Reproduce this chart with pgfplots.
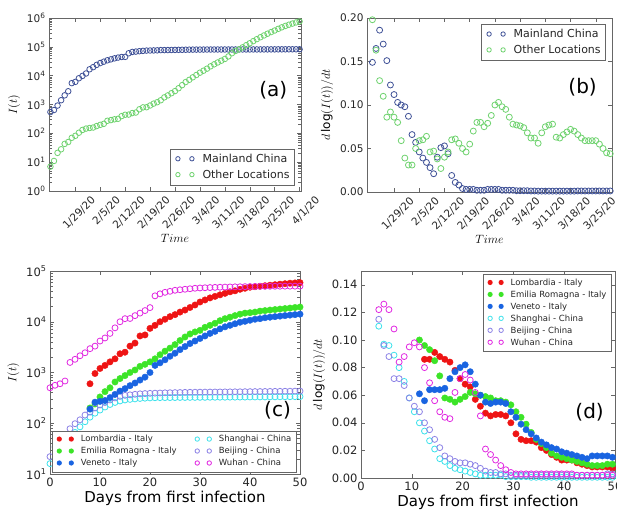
\documentclass[border=0pt]{standalone}
\usepackage{fontspec}
\setmainfont{DejaVu Sans}
\usepackage{pgfplots}
\pgfplotsset{compat=1.18}
\definecolor{cnblue}{RGB}{62,80,150}
\definecolor{olgreen}{RGB}{110,210,110}
\definecolor{lred}{RGB}{238,20,20}
\definecolor{lgreen}{RGB}{60,228,40}
\definecolor{lblue}{RGB}{25,100,225}
\definecolor{lcyan}{RGB}{60,225,235}
\definecolor{lpurple}{RGB}{140,130,230}
\definecolor{lmag}{RGB}{225,40,225}
\newcommand\tp[1]{10\textsuperscript{#1}}
% two-marker legend symbols (open / filled)
\newcommand\lmo[2]{\tikz[baseline=-0.6ex]\draw[#1,line width=0.8pt] (0pt,0pt) circle (2.2pt) (#2,0pt) circle (2.2pt);}
\newcommand\lmf[2]{\tikz[baseline=-0.6ex]\fill[#1] (0pt,0pt) circle (2.6pt) (#2,0pt) circle (2.6pt);}
\pgfplotsset{
  base/.style={scale only axis, axis line style={black!60}, every tick/.style={black!60},
    tick align=inside, tick label style={text=black!85},
    /pgf/number format/assume math mode=true, legend cell align=left,
    legend style={draw=black!60, text=black!85, inner sep=3pt, row sep=2pt}},
  odot/.style={only marks, mark=o, mark size=2.8pt, line width=0.8pt, color=#1, forget plot},
  fdot/.style={only marks, mark=*, mark size=3.2pt, color=#1, mark options={fill=#1, draw=#1}, forget plot},
  datelab/.style={x tick label style={xshift=15pt, yshift=-3pt, rotate=45, anchor=north east,
    font=\fontsize{10.5}{12}\selectfont, inner sep=1pt}},
}
\begin{document}
\begin{tikzpicture}
\useasboundingbox (0pt,0pt) rectangle (617pt,511pt);
% ---------------- (a)
\begin{axis}[base, datelab, at={(49pt,320pt)}, anchor=south west, width=252pt, height=173pt,
  xmin=-0.4, xmax=70.4, ymode=log, ymin=1, ymax=1e6,
  xtick={7,14,21,28,35,42,49,56,63,70},
  xticklabels={1/29/20,2/5/20,2/12/20,2/19/20,2/26/20,3/4/20,3/11/20,3/18/20,3/25/20,4/1/20},
  ytick={1,10,100,1000,10000,100000,1000000},
  yticklabels={\tp0,\tp1,\tp2,\tp3,\tp4,\tp5,\tp6},
  y tick label style={font=\fontsize{10.5}{12}\selectfont},
  xlabel={$Time$}, ylabel={$I(t)$}, label style={font=\fontsize{12}{14}\selectfont},
  xlabel style={yshift=1pt},
  legend style={at={(0.975,0.035)}, anchor=south east, font=\fontsize{11}{12.5}\selectfont}]
\addplot[odot=cnblue] coordinates {(0,548)(1,643)(2,920)(3,1406)(4,2075)(5,2877)(6,5509)(7,6087)(8,8141)(9,9802)(10,11891)(11,16630)(12,19716)(13,23707)(14,27440)(15,30587)(16,34110)(17,36814)(18,39829)(19,42354)(20,44386)(21,44759)(22,59895)(23,66358)(24,68413)(25,70513)(26,72434)(27,74211)(28,74619)(29,75077)(30,75550)(31,77001)(32,77022)(33,77241)(34,77754)(35,78166)(36,78600)(37,78928)(38,79356)(39,79932)(40,80136)(41,80261)(42,80386)(43,80537)(44,80690)(45,80770)(46,80823)(47,80860)(48,80887)(49,80921)(50,80932)(51,80945)(52,80977)(53,81003)(54,81033)(55,81058)(56,81102)(57,81156)(58,81250)(59,81305)(60,81435)(61,81498)(62,81591)(63,81661)(64,81782)(65,81897)(66,81999)(67,82122)(68,82198)(69,82279)(70,82361)};
\addplot[odot=olgreen] coordinates {(0,7)(1,11)(2,21)(3,28)(4,43)(5,50)(6,70)(7,82)(8,105)(9,131)(10,146)(11,153)(12,159)(13,179)(14,197)(15,214)(16,272)(17,288)(18,307)(19,319)(20,395)(21,441)(22,447)(23,505)(24,526)(25,683)(26,794)(27,804)(28,924)(29,1073)(30,1200)(31,1402)(32,1769)(33,2069)(34,2459)(35,2918)(36,3664)(37,4691)(38,6009)(39,7169)(40,8774)(41,10566)(42,12668)(43,14852)(44,17481)(45,21110)(46,24747)(47,28673)(48,32997)(49,37910)(50,46431)(51,60000)(52,72000)(53,82000)(54,96000)(55,114000)(56,133000)(57,158000)(58,185000)(59,215000)(60,248000)(61,285000)(62,325000)(63,368000)(64,420000)(65,475000)(66,530000)(67,585000)(68,640000)(69,700000)(70,760000)};
\addlegendimage{empty legend}\addlegendentry{\lmo{cnblue}{14pt}\hspace{8pt}Mainland China}
\addlegendimage{empty legend}\addlegendentry{\lmo{olgreen}{14pt}\hspace{8pt}Other Locations}
\node[font=\fontsize{20}{22}\selectfont] at (rel axis cs:0.89,0.58) {(a)};
\end{axis}
% ---------------- (b)
\begin{axis}[base, datelab, at={(367pt,319pt)}, anchor=south west, width=245pt, height=174pt,
  xmin=-0.5, xmax=67.5, ymin=0, ymax=0.2,
  xtick={7,14,21,28,35,42,49,56,63},
  xticklabels={1/29/20,2/5/20,2/12/20,2/19/20,2/26/20,3/4/20,3/11/20,3/18/20,3/25/20},
  ytick={0,0.05,0.1,0.15,0.2}, yticklabels={0.00,0.05,0.10,0.15,0.20},
  y tick label style={font=\fontsize{10.5}{12}\selectfont},
  xlabel={$Time$}, ylabel={$d\log(I(t))/dt$}, label style={font=\fontsize{12}{14}\selectfont},
  xlabel style={yshift=1pt},
  legend style={at={(0.975,0.965)}, anchor=north east, font=\fontsize{11}{12.5}\selectfont}]
\addplot[odot=cnblue, mark size=3pt] coordinates {(1,0.149)(2,0.165)(3,0.186)(4,0.170)(5,0.151)(6,0.123)(7,0.112)(8,0.103)(9,0.100)(10,0.098)(11,0.087)(12,0.066)(13,0.057)(14,0.046)(15,0.039)(16,0.034)(17,0.028)(18,0.021)(19,0.040)(20,0.051)(21,0.053)(22,0.044)(23,0.019)(24,0.011)(25,0.008)(26,0.004)(27,0.003)(28,0.003)(29,0.003)(30,0.002)(31,0.002)(32,0.002)(33,0.003)(34,0.003)(35,0.003)(36,0.003)(37,0.002)(38,0.002)(39,0.002)(40,0.002)(41,0.0015)(42,0.0015)(43,0.0015)(44,0.0015)(45,0.0012)(46,0.0012)(47,0.001)(48,0.001)(49,0.001)(50,0.001)(51,0.001)(52,0.001)(53,0.001)(54,0.001)(55,0.001)(56,0.001)(57,0.001)(58,0.0012)(59,0.0012)(60,0.0012)(61,0.0012)(62,0.0012)(63,0.0012)(64,0.0012)(65,0.0012)(66,0.0012)(67,0.0012)};
\addplot[odot=olgreen, mark size=3pt] coordinates {(1,0.198)(2,0.163)(3,0.128)(4,0.110)(5,0.086)(6,0.092)(7,0.086)(8,0.080)(9,0.059)(10,0.039)(11,0.031)(12,0.031)(13,0.050)(14,0.059)(15,0.060)(16,0.064)(17,0.046)(18,0.047)(19,0.038)(20,0.027)(21,0.040)(22,0.046)(23,0.060)(24,0.061)(25,0.056)(26,0.050)(27,0.046)(28,0.055)(29,0.070)(30,0.080)(31,0.080)(32,0.075)(33,0.079)(34,0.088)(35,0.100)(36,0.103)(37,0.098)(38,0.095)(39,0.086)(40,0.078)(41,0.077)(42,0.076)(43,0.074)(44,0.068)(45,0.062)(46,0.062)(47,0.056)(48,0.068)(49,0.075)(50,0.077)(51,0.078)(52,0.063)(53,0.062)(54,0.066)(55,0.069)(56,0.072)(57,0.070)(58,0.066)(59,0.062)(60,0.059)(61,0.059)(62,0.059)(63,0.059)(64,0.055)(65,0.050)(66,0.045)(67,0.044)};
\addlegendimage{empty legend}\addlegendentry{\lmo{cnblue}{14pt}\hspace{8pt}Mainland China}
\addlegendimage{empty legend}\addlegendentry{\lmo{olgreen}{14pt}\hspace{8pt}Other Locations}
\node[font=\fontsize{20}{22}\selectfont] at (rel axis cs:0.88,0.60) {(b)};
\end{axis}
% ---------------- (c)
\begin{axis}[base, at={(50pt,37pt)}, anchor=south west, width=250pt, height=203pt,
  xmin=0, xmax=50, ymode=log, ymin=10, ymax=1e5,
  xtick={0,10,20,30,40,50},
  ytick={10,100,1000,10000,100000}, yticklabels={\tp1,\tp2,\tp3,\tp4,\tp5},
  tick label style={font=\fontsize{11.5}{13}\selectfont},
  xlabel={Days from first infection}, xlabel style={font=\fontsize{15}{17}\selectfont, yshift=2pt},
  ylabel={$I(t)$}, ylabel style={font=\fontsize{13}{15}\selectfont},
  legend columns=2, legend style={at={(0.008,0.01)}, anchor=south west, font=\fontsize{8.5}{9.5}\selectfont,
    row sep=0pt, inner sep=2.5pt, /tikz/every even column/.append style={column sep=14pt}}]
\addplot[fdot=lred] coordinates {(8,600)(9,955)(10,1200)(11,1380)(12,1620)(13,1860)(14,2340)(15,2510)(16,3310)(17,3800)(18,5250)(19,5500)(20,7400)(21,8500)(22,10000)(23,11200)(24,12600)(25,13800)(26,15500)(27,17000)(28,19100)(29,21400)(30,24500)(31,26900)(32,29500)(33,31600)(34,33900)(35,36300)(36,38900)(37,40700)(38,43600)(39,45700)(40,47900)(41,49000)(42,50100)(43,51300)(44,52500)(45,53700)(46,55000)(47,56200)(48,57500)(49,58200)(50,58900)};
\addplot[odot=lcyan, mark size=3pt] coordinates {(0,16)(1,20)(2,26)(3,35)(4,50)(5,66)(6,85)(7,107)(8,132)(9,158)(10,182)(11,209)(12,234)(13,257)(14,275)(15,288)(16,295)(17,302)(18,308)(19,312)(20,316)(21,318)(22,319)(23,320)(24,320)(25,321)(26,322)(27,322)(28,323)(29,323)(30,324)(31,324)(32,325)(33,325)(34,326)(35,326)(36,327)(37,327)(38,328)(39,328)(40,329)(41,329)(42,330)(43,330)(44,331)(45,331)(46,332)(47,333)(48,333)(49,334)(50,335)};
\addplot[fdot=lgreen] coordinates {(8,200)(9,240)(10,330)(11,420)(12,500)(13,650)(14,760)(15,870)(16,1000)(17,1120)(18,1320)(19,1450)(20,1620)(21,1860)(22,2240)(23,2630)(24,3020)(25,3550)(26,4270)(27,5010)(28,5750)(29,6300)(30,6760)(31,7760)(32,8500)(33,9330)(34,10500)(35,11500)(36,12300)(37,13200)(38,14100)(39,14800)(40,15100)(41,15500)(42,16200)(43,16600)(44,17000)(45,17400)(46,17800)(47,18200)(48,18600)(49,19100)(50,19500)};
\addplot[odot=lpurple, mark size=3pt] coordinates {(0,22)(1,34)(2,45)(3,60)(4,78)(5,98)(6,117)(7,145)(8,166)(9,200)(10,229)(11,257)(12,288)(13,316)(14,339)(15,355)(16,363)(17,372)(18,380)(19,385)(20,389)(21,392)(22,395)(23,398)(24,400)(25,402)(26,404)(27,406)(28,408)(29,409)(30,410)(31,411)(32,412)(33,413)(34,414)(35,415)(36,416)(37,417)(38,418)(39,419)(40,420)(41,421)(42,422)(43,423)(44,424)(45,425)(46,426)(47,427)(48,428)(49,429)(50,430)};
\addplot[fdot=lblue] coordinates {(8,190)(9,260)(10,270)(11,280)(12,320)(13,370)(14,430)(15,480)(16,550)(17,620)(18,710)(19,810)(20,1000)(21,1380)(22,1550)(23,1780)(24,2090)(25,2400)(26,2820)(27,3240)(28,3720)(29,4170)(30,4680)(31,5250)(32,5890)(33,6460)(34,7240)(35,7940)(36,8510)(37,9120)(38,9770)(39,10200)(40,10700)(41,11200)(42,11500)(43,12000)(44,12300)(45,12600)(46,12900)(47,13200)(48,13500)(49,13800)(50,14100)};
\addplot[odot=lmag, mark size=3pt] coordinates {(0,500)(1,560)(2,600)(3,680)(4,1580)(5,1820)(6,2140)(7,2450)(8,2950)(9,3310)(10,4170)(11,4790)(12,5890)(13,7590)(14,10000)(15,11500)(16,11600)(17,13200)(18,14800)(19,16600)(20,19000)(21,32400)(22,35500)(23,38000)(24,39800)(25,41700)(26,42700)(27,43700)(28,44700)(29,45700)(30,46300)(31,46800)(32,47200)(33,47600)(34,47900)(35,48200)(36,48500)(37,48800)(38,49000)(39,49200)(40,49400)(41,49600)(42,49800)(43,49900)(44,50000)(45,50100)(46,50200)(47,50300)(48,50300)(49,50300)(50,50340)};
\addlegendimage{empty legend}\addlegendentry{\lmf{lred}{12pt}\hspace{7pt}Lombardia - Italy}
\addlegendimage{empty legend}\addlegendentry{\lmo{lcyan}{12pt}\hspace{7pt}Shanghai - China}
\addlegendimage{empty legend}\addlegendentry{\lmf{lgreen}{12pt}\hspace{7pt}Emilia Romagna - Italy}
\addlegendimage{empty legend}\addlegendentry{\lmo{lpurple}{12pt}\hspace{7pt}Beijing - China}
\addlegendimage{empty legend}\addlegendentry{\lmf{lblue}{12pt}\hspace{7pt}Veneto - Italy}
\addlegendimage{empty legend}\addlegendentry{\lmo{lmag}{12pt}\hspace{7pt}Wuhan - China}
\node[font=\fontsize{20}{22}\selectfont] at (rel axis cs:0.91,0.315) {(c)};
\end{axis}
% ---------------- (d)
\begin{axis}[base, at={(361pt,33pt)}, anchor=south west, width=254pt, height=207pt,
  xmin=0, xmax=50, ymin=0, ymax=0.15,
  xtick={0,10,20,30,40,50},
  ytick={0,0.02,0.04,0.06,0.08,0.1,0.12,0.14},
  yticklabels={0.00,0.02,0.04,0.06,0.08,0.10,0.12,0.14},
  tick label style={font=\fontsize{11.5}{13}\selectfont},
  xlabel={Days from first infection}, xlabel style={font=\fontsize{15}{17}\selectfont, yshift=2pt},
  ylabel={$d\log(I(t))/dt$}, ylabel style={font=\fontsize{12}{14}\selectfont},
  legend style={at={(0.985,0.985)}, anchor=north east, font=\fontsize{8.5}{9.5}\selectfont, row sep=0pt, inner sep=2.5pt}]
\addplot[fdot=lred] coordinates {(12.5,0.086)(13.5,0.086)(14.5,0.091)(15.5,0.088)(16.5,0.086)(17.5,0.084)(18.5,0.078)(19.5,0.072)(20.5,0.068)(21.5,0.066)(22.5,0.057)(23.5,0.052)(24.5,0.047)(25.5,0.045)(26.5,0.046)(27.5,0.046)(28.5,0.045)(29.5,0.040)(30.5,0.032)(31.5,0.028)(32.5,0.027)(33.5,0.027)(34.5,0.026)(35.5,0.022)(36.5,0.020)(37.5,0.017)(38.5,0.015)(39.5,0.013)(40.5,0.013)(41.5,0.013)(42.5,0.011)(43.5,0.010)(44.5,0.009)(45.5,0.008)(46.5,0.008)(47.5,0.008)(48.5,0.008)(49.5,0.007)};
\addplot[fdot=lgreen] coordinates {(11.5,0.100)(12.5,0.096)(13.5,0.093)(14.5,0.085)(15.5,0.074)(16.5,0.058)(17.5,0.057)(18.5,0.055)(19.5,0.057)(20.5,0.059)(21.5,0.062)(22.5,0.061)(23.5,0.060)(24.5,0.059)(25.5,0.058)(26.5,0.056)(27.5,0.056)(28.5,0.055)(29.5,0.053)(30.5,0.048)(31.5,0.044)(32.5,0.039)(33.5,0.033)(34.5,0.028)(35.5,0.025)(36.5,0.022)(37.5,0.018)(38.5,0.016)(39.5,0.015)(40.5,0.014)(41.5,0.013)(42.5,0.012)(43.5,0.011)(44.5,0.010)(45.5,0.009)(46.5,0.009)(47.5,0.009)(48.5,0.010)(49.5,0.010)};
\addplot[fdot=lblue] coordinates {(11.5,0.061)(12.5,0.056)(13.5,0.064)(14.5,0.064)(15.5,0.064)(16.5,0.065)(17.5,0.072)(18.5,0.077)(19.5,0.080)(20.5,0.082)(21.5,0.077)(22.5,0.068)(23.5,0.060)(24.5,0.055)(25.5,0.054)(26.5,0.055)(27.5,0.055)(28.5,0.054)(29.5,0.048)(30.5,0.044)(31.5,0.039)(32.5,0.035)(33.5,0.032)(34.5,0.029)(35.5,0.026)(36.5,0.024)(37.5,0.022)(38.5,0.021)(39.5,0.019)(40.5,0.018)(41.5,0.017)(42.5,0.016)(43.5,0.015)(44.5,0.014)(45.5,0.016)(46.5,0.016)(47.5,0.016)(48.5,0.016)(49.5,0.015)};
\addplot[odot=lcyan, mark size=3pt] coordinates {(3.5,0.110)(4.5,0.097)(5.5,0.096)(6.5,0.089)(7.5,0.080)(8.5,0.070)(9.5,0.058)(10.5,0.048)(11.5,0.040)(12.5,0.034)(13.5,0.027)(14.5,0.021)(15.5,0.014)(16.5,0.012)(17.5,0.009)(18.5,0.007)(19.5,0.006)(20.5,0.005)(21.5,0.004)(22.5,0.003)(23.5,0.002)(24.5,0.002)(25.5,0.002)(26.5,0.002)(27.5,0.002)(28.5,0.001)(29.5,0.001)(30.5,0.001)(31.5,0.001)(32.5,0.001)(33.5,0.0005)(34.5,0.0005)(35.5,0.0005)(36.5,0.0005)(37.5,0.0005)(38.5,0.0005)(39.5,0.0005)(40.5,0.0005)(41.5,0.0005)(42.5,0.0005)(43.5,0.0005)(44.5,0.0005)(45.5,0.0005)(46.5,0.0005)(47.5,0.0005)(48.5,0.0005)(49.5,0.0005)};
\addplot[odot=lpurple, mark size=3pt] coordinates {(3.5,0.115)(4.5,0.096)(5.5,0.088)(6.5,0.072)(7.5,0.072)(8.5,0.067)(9.5,0.058)(10.5,0.052)(11.5,0.048)(12.5,0.040)(13.5,0.035)(14.5,0.028)(15.5,0.022)(16.5,0.016)(17.5,0.014)(18.5,0.012)(19.5,0.011)(20.5,0.011)(21.5,0.010)(22.5,0.009)(23.5,0.007)(24.5,0.005)(25.5,0.004)(26.5,0.004)(27.5,0.003)(28.5,0.003)(29.5,0.002)(30.5,0.002)(31.5,0.002)(32.5,0.002)(33.5,0.002)(34.5,0.002)(35.5,0.002)(36.5,0.002)(37.5,0.002)(38.5,0.002)(39.5,0.002)(40.5,0.002)(41.5,0.002)(42.5,0.002)(43.5,0.002)(44.5,0.002)(45.5,0.002)(46.5,0.002)(47.5,0.002)(48.5,0.003)(49.5,0.003)};
\addplot[odot=lmag, mark size=3pt] coordinates {(3.5,0.122)(4.5,0.126)(5.5,0.122)(6.5,0.108)(7.5,0.084)(8.5,0.088)(9.5,0.095)(10.5,0.098)(11.5,0.095)(12.5,0.080)(13.5,0.069)(14.5,0.056)(15.5,0.048)(16.5,0.044)(17.5,0.043)(18.5,0.062)(19.5,0.072)(20.5,0.075)(21.5,0.071)(22.5,0.062)(23.5,0.045)(24.5,0.021)(25.5,0.017)(26.5,0.013)(27.5,0.009)(28.5,0.006)(29.5,0.004)(30.5,0.003)(31.5,0.003)(32.5,0.003)(33.5,0.003)(34.5,0.003)(35.5,0.003)(36.5,0.003)(37.5,0.003)(38.5,0.003)(39.5,0.003)(40.5,0.003)(41.5,0.003)(42.5,0.002)(43.5,0.002)(44.5,0.002)(45.5,0.002)(46.5,0.002)(47.5,0.002)(48.5,0.002)(49.5,0.002)};
\addlegendimage{empty legend}\addlegendentry{\lmf{lred}{11pt}\hspace{7pt}Lombardia - Italy}
\addlegendimage{empty legend}\addlegendentry{\lmf{lgreen}{11pt}\hspace{7pt}Emilia Romagna - Italy}
\addlegendimage{empty legend}\addlegendentry{\lmf{lblue}{11pt}\hspace{7pt}Veneto - Italy}
\addlegendimage{empty legend}\addlegendentry{\lmo{lcyan}{11pt}\hspace{7pt}Shanghai - China}
\addlegendimage{empty legend}\addlegendentry{\lmo{lpurple}{11pt}\hspace{7pt}Beijing - China}
\addlegendimage{empty legend}\addlegendentry{\lmo{lmag}{11pt}\hspace{7pt}Wuhan - China}
\node[font=\fontsize{20}{22}\selectfont] at (rel axis cs:0.90,0.32) {(d)};
\end{axis}
\end{tikzpicture}
\end{document}
